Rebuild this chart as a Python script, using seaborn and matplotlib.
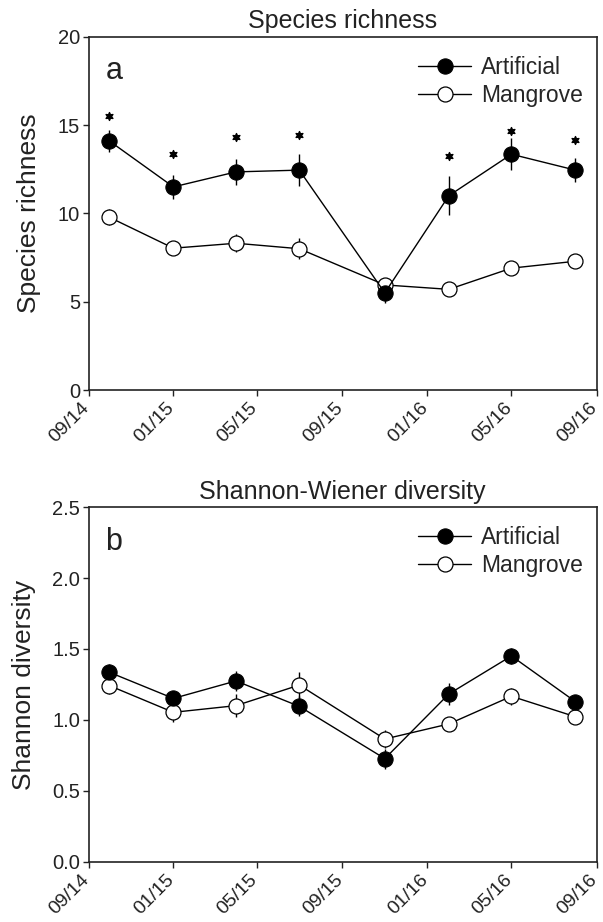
import matplotlib
matplotlib.use("Agg")
import matplotlib.pyplot as plt
import matplotlib.dates as mdates
import matplotlib.transforms as mtransforms
import seaborn as sns
import pandas as pd
import numpy as np

# ---------------- data ----------------
dates = ["2014-10-01", "2015-01-01", "2015-04-01", "2015-07-01",
         "2015-11-01", "2016-02-01", "2016-05-01", "2016-08-01"]

rich_art = [14.1, 11.5, 12.35, 12.45, 5.5, 11.0, 13.35, 12.45]
rich_art_err = [0.65, 0.7, 0.75, 0.9, 0.55, 1.1, 0.9, 0.7]
rich_man = [9.78, 8.03, 8.31, 8.0, 5.95, 5.7, 6.9, 7.29]
rich_man_err = [0.45, 0.35, 0.5, 0.6, 0.3, 0.2, 0.2, 0.2]
sig_y = [15.5, 13.37, 14.35, 14.45, np.nan, 13.26, 14.67, 14.16]

div_art = [1.336, 1.152, 1.275, 1.096, 0.728, 1.183, 1.451, 1.129]
div_art_err = [0.06, 0.05, 0.07, 0.07, 0.07, 0.08, 0.055, 0.05]
div_man = [1.242, 1.054, 1.101, 1.246, 0.866, 0.972, 1.167, 1.023]
div_man_err = [0.06, 0.065, 0.08, 0.09, 0.065, 0.03, 0.06, 0.03]

xtick_dates = ["2014-09-01", "2015-01-01", "2015-05-01", "2015-09-01",
               "2016-01-01", "2016-05-01", "2016-09-01"]

# ---------------- style ----------------
sns.set_style("ticks")
plt.rcParams['font.family'] = ['Liberation Sans', 'DejaVu Sans']
plt.rcParams['axes.linewidth'] = 1.2

x = pd.to_datetime(dates)
xt = pd.to_datetime(xtick_dates)

fig = plt.figure(figsize=(6.03, 9.22), dpi=100)
ax1 = fig.add_axes([0.1468, 0.577, 0.8432, 0.3831])
ax2 = fig.add_axes([0.1468, 0.0651, 0.8432, 0.385])

def panel(ax, art, art_err, man, man_err, ylim, yticks, yfmt, title, ylabel, letter, sig=None):
    df_a = pd.DataFrame({"date": x, "value": art})
    df_m = pd.DataFrame({"date": x, "value": man})
    ax.errorbar(x, art, yerr=art_err, fmt='none', ecolor='black', elinewidth=1.0, capsize=0, zorder=2)
    ax.errorbar(x, man, yerr=man_err, fmt='none', ecolor='black', elinewidth=1.0, capsize=0, zorder=2)
    sns.lineplot(data=df_m, x="date", y="value", ax=ax, color='black', linewidth=1.0,
                 marker='o', markersize=10.8, markerfacecolor='white', markeredgecolor='black',
                 markeredgewidth=0.9, zorder=3, label="Mangrove")
    sns.lineplot(data=df_a, x="date", y="value", ax=ax, color='black', linewidth=1.0,
                 marker='o', markersize=11, markerfacecolor='black', markeredgecolor='black',
                 zorder=4, label="Artificial")
    if sig is not None:
        ax.scatter(x, sig, marker=(6, 1, 0), s=32, color='black', zorder=5)
    ax.set_xlim(xt[0], xt[-1])
    ax.set_ylim(*ylim)
    ax.set_yticks(yticks)
    ax.set_yticklabels([yfmt.format(v) for v in yticks])
    ax.set_xticks(xt)
    ax.xaxis.set_major_formatter(mdates.DateFormatter("%m/%y"))
    ax.tick_params(axis='both', direction='out', length=4, width=1.0, labelsize=14.5, colors='#222222',
                   top=False, right=False, pad=2)
    ax.tick_params(axis='x', pad=3, labelsize=14)
    shift = mtransforms.ScaledTranslation(-8 / 100, 0, fig.dpi_scale_trans)
    for lab in ax.get_xticklabels():
        lab.set_rotation(45)
        lab.set_ha('right')
        lab.set_va('top')
        lab.set_rotation_mode('anchor')
        lab.set_transform(lab.get_transform() + shift)
    for s in ax.spines.values():
        s.set_visible(True)
        s.set_linewidth(1.2)
        s.set_color('#222222')
    ax.set_title(title, fontsize=18, pad=6, color='#222222')
    ax.set_ylabel(ylabel, fontsize=19, labelpad=12, color='#222222')
    ax.set_xlabel("")
    ax.text(0.033, 0.88, letter, transform=ax.transAxes, fontsize=22, va='baseline', color='#222222')
    h, l = ax.get_legend_handles_labels()
    order = [l.index("Artificial"), l.index("Mangrove")]
    ax.legend([h[i] for i in order], [l[i] for i in order], loc='upper right',
              frameon=False, fontsize=16.5, handlelength=2.3, handletextpad=0.45,
              labelspacing=0.22, borderaxespad=0.2, bbox_to_anchor=(1.0, 0.985))

panel(ax1, rich_art, rich_art_err, rich_man, rich_man_err, (0, 20), [0, 5, 10, 15, 20], "{:.0f}",
      "Species richness", "Species richness", "a", sig=sig_y)
panel(ax2, div_art, div_art_err, div_man, div_man_err, (0, 2.5), [0.0, 0.5, 1.0, 1.5, 2.0, 2.5], "{:.1f}",
      "Shannon-Wiener diversity", "Shannon diversity", "b")

fig.savefig("out.png", dpi=100)
